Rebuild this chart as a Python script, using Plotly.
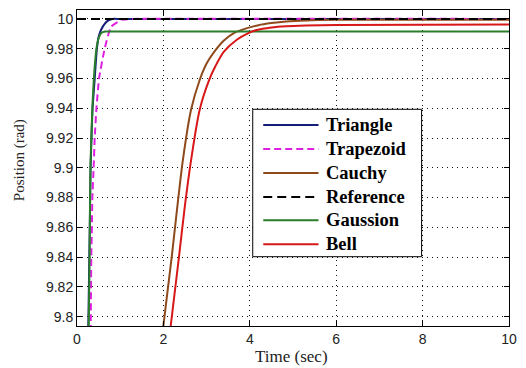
import plotly.graph_objects as go

# ---------------- data ----------------
t_triangle = [0.24, 0.265, 0.285, 0.30, 0.315, 0.335, 0.36, 0.41, 0.46, 0.51, 0.60, 0.70, 0.82, 1.0, 10.0]
y_triangle = [9.76, 9.80, 9.84, 9.87, 9.90, 9.92, 9.94, 9.96, 9.98, 9.989, 9.995, 9.9985, 10.0, 10.0, 10.0]

t_trapezoid = [0.30, 0.32, 0.33, 0.345, 0.355, 0.385, 0.41, 0.45, 0.51, 0.64, 0.79, 1.05, 1.3, 10.0]
y_trapezoid = [9.76, 9.80, 9.84, 9.86, 9.88, 9.90, 9.92, 9.94, 9.96, 9.98, 9.9948, 9.9995, 10.0, 10.0]

t_cauchy = [1.9, 2.0, 2.1, 2.2, 2.3, 2.45, 2.64, 2.84, 3.0, 3.18, 3.4, 3.64, 3.9, 4.2, 4.5, 4.84, 5.3, 6.0, 7.0, 10.0]
y_cauchy = [9.77, 9.794, 9.818, 9.842, 9.868, 9.905, 9.939, 9.959, 9.970, 9.978, 9.9855, 9.9906, 9.9935, 9.9958,
            9.9972, 9.9983, 9.999, 9.9994, 9.9995, 9.9995]

t_reference = [0.0, 10.0]
y_reference = [10.0, 10.0]

t_gaussion = [0.25, 0.275, 0.295, 0.31, 0.355, 0.39, 0.45, 0.50, 0.56, 0.65, 0.8, 1.0, 10.0]
y_gaussion = [9.76, 9.80, 9.85, 9.90, 9.94, 9.96, 9.98, 9.987, 9.9905, 9.9915, 9.9915, 9.9915, 9.9915]

t_bell = [2.05, 2.17, 2.36, 2.5, 2.64, 2.84, 3.06, 3.2, 3.4, 3.7, 3.98, 4.16, 4.5, 4.84, 5.3, 6.0, 10.0]
y_bell = [9.765, 9.794, 9.84, 9.875, 9.905, 9.939, 9.959, 9.968, 9.978, 9.986, 9.9906, 9.9926, 9.9943, 9.9951,
          9.9956, 9.996, 9.9962]

x_ticks = [0, 2, 4, 6, 8, 10]
y_ticks = [9.8, 9.82, 9.84, 9.86, 9.88, 9.9, 9.92, 9.94, 9.96, 9.98, 10.0]
y_tick_labels = ["9.8", "9.82", "9.84", "9.86", "9.88", "9.9", "9.92", "9.94", "9.96", "9.98", "10"]

names = ["Triangle", "Trapezoid", "Cauchy", "Reference", "Gaussion", "Bell"]
colors = ["#141f7a", "#e020e0", "#8e4a1c", "#000000", "#2a7d2a", "#d81818"]
dashes = ["solid", "7px,4px", "solid", "9px,5px", "solid", "solid"]
smooth = [0.4, 0.4, 0.8, 0.0, 0.4, 0.8]
series = [(t_triangle, y_triangle), (t_trapezoid, y_trapezoid), (t_cauchy, y_cauchy),
          (t_reference, y_reference), (t_gaussion, y_gaussion), (t_bell, y_bell)]

fig = go.Figure()
for (tx, ty), name, c, d, s in zip(series, names, colors, dashes, smooth):
    line = dict(color=c, width=2, dash=d)
    if s > 0:
        line.update(shape="spline", smoothing=s)
    fig.add_trace(go.Scatter(x=tx, y=ty, mode="lines", name=name, showlegend=False, line=line))

axis_common = dict(showline=True, linecolor="black", linewidth=1, mirror="ticks",
                   ticks="inside", ticklen=5, tickcolor="black",
                   showgrid=True, gridcolor="#111111", gridwidth=1, griddash="1px,4px",
                   zeroline=False,
                   tickfont=dict(family="Liberation Sans, Arial", size=14, color="#222222"))

fig.update_layout(
    width=526, height=368,
    margin=dict(l=77, r=9, t=10, b=42),
    paper_bgcolor="white", plot_bgcolor="white",
    xaxis=dict(range=[0, 10], tickvals=x_ticks, ticktext=[str(v) for v in x_ticks], **axis_common),
    yaxis=dict(range=[9.7937, 10.006], tickvals=y_ticks, ticktext=y_tick_labels, **axis_common),
)

# axis titles
fig.add_annotation(text="Time (sec)", xref="paper", yref="paper", x=0.497, y=-0.098,
                   xanchor="center", yanchor="middle", showarrow=False,
                   font=dict(family="Liberation Serif, Times New Roman", size=17, color="#222222"))
fig.add_annotation(text="Position (rad)", xref="paper", yref="paper", x=-0.134, y=0.525,
                   xanchor="center", yanchor="middle", showarrow=False, textangle=-90,
                   font=dict(family="Liberation Serif, Times New Roman", size=15, color="#222222"))

# legend box (drawn manually to match long line samples)
fig.add_shape(type="rect", xref="paper", yref="paper", x0=0.4068, x1=0.7977, y0=0.2193, y1=0.6858,
              line=dict(color="black", width=1), fillcolor="white", layer="above")
row_y = [0.636, 0.560, 0.484, 0.408, 0.335, 0.259]
for name, c, d, ry in zip(names, colors, dashes, row_y):
    fig.add_shape(type="line", xref="paper", yref="paper", x0=0.4311, x1=0.5591, y0=ry, y1=ry,
                  line=dict(color=c, width=2, dash=d), layer="above")
    fig.add_annotation(text="<b>%s</b>" % name, xref="paper", yref="paper", x=0.572, y=ry,
                       xanchor="left", yanchor="middle", showarrow=False,
                       font=dict(family="Liberation Serif, Times New Roman", size=18.5, color="black"))

fig.write_html("out.html")
